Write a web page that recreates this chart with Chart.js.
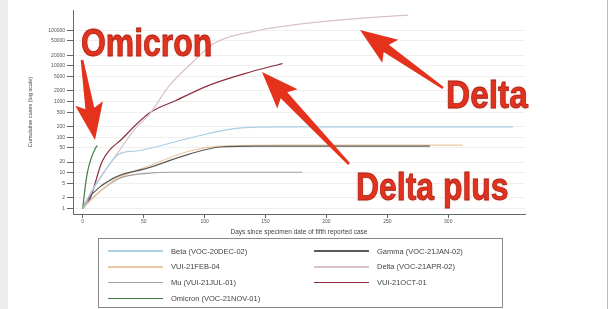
<!DOCTYPE html>
<html>
<head>
<meta charset="utf-8">
<script src="https://cdn.jsdelivr.net/npm/chart.js@4.4.0/dist/chart.umd.min.js"></script>
<style>
  html, body { margin: 0; padding: 0; background: #fff; }
  #wrap { position: relative; width: 611px; height: 309px; overflow: hidden; background: #fff; }
  #wrap:before { content: ''; position: absolute; left: 0; top: 0; width: 8px; height: 309px; background: #ececec; }
  #wrap:after { content: ''; position: absolute; right: 3px; top: 0; width: 1px; height: 309px; background: #bbb; }
  #chart { position: absolute; left: 0; top: 0; }
  .note { position: absolute; font-family: "Liberation Sans", Arial, sans-serif; font-weight: bold;
          font-size: 38px; color: #e2311d; -webkit-text-stroke: 0.8px #a3231a; line-height: 1;
          transform-origin: left top; transform: scaleX(0.84); white-space: nowrap;
          text-shadow: 0 0 3px rgba(255, 190, 170, 0.9); }
  #legend { position: absolute; left: 98px; top: 238px; width: 403px; height: 68px;
            border: 1px solid #8a8a8a; font-family: "Liberation Sans", Arial, sans-serif;
            font-size: 7.5px; color: #444; }
  .item { position: absolute; height: 10px; display: flex; align-items: center; white-space: nowrap; }
  .item span.sw { display: inline-block; width: 55px; height: 1.5px; margin-right: 8px; }
</style>
</head>
<body>
<div id="wrap">
  <canvas id="chart" width="611" height="309"></canvas>
  <div class="note" style="left:81px; top:24px;">Omicron</div>
  <div class="note" style="left:446px; top:76px; transform: scaleX(0.88);">Delta</div>
  <div class="note" style="left:356px; top:168px;">Delta plus</div>
  <div id="legend"></div>
</div>
<script>
// tick labels
var dayTicks = [0, 50, 100, 150, 200, 250, 300];
var caseTicks = [1, 2, 5, 10, 20, 50, 100, 200, 500, 1000, 2000, 5000, 10000, 20000, 50000, 100000];

// series: days since 5th case / cumulative cases
var betaDays = [0, 7, 14, 30, 44, 88, 123, 162, 353];
var betaCases = [1, 3, 7, 34, 41, 95, 171, 194, 194];

var gammaDays = [0, 3, 25, 53, 88, 113, 145, 285];
var gammaCases = [1, 1.6, 7, 13.5, 34, 53, 56, 56];

var feb04Days = [0, 4, 25, 53, 88, 113, 162, 312];
var feb04Cases = [1, 1.4, 6, 15, 41, 56, 60, 60];

var deltaDays = [0, 10, 25, 43, 55, 71, 90, 108, 145, 178, 219, 267];
var deltaCases = [1, 4.2, 24, 171, 452, 2800, 12500, 43000, 100000, 148000, 205000, 265000];

var muDays = [0, 3, 14, 30, 53, 71, 180];
var muCases = [1, 1.3, 3, 7, 9.7, 10.4, 10.4];

var oct01Days = [0, 6, 16, 33, 55, 76, 103, 133, 164];
var oct01Cases = [1, 1.9, 21, 95, 483, 1050, 2800, 6100, 11700];

var omicronDays = [0, 2, 4, 7, 10, 12];
var omicronCases = [1, 4, 11, 26, 46, 58];

function pts(days, cases) {
    return days.map(function (d, i) { return { x: d, y: cases[i] }; });
}

function series(label, color, days, cases) {
    return {
        label: label,
        borderColor: color,
        backgroundColor: color,
        borderWidth: 1.2,
        pointRadius: 0,
        fill: false,
        cubicInterpolationMode: 'monotone',
        data: pts(days, cases)
    };
}

var datasets = [
    series('Beta (VOC-20DEC-02)', '#a9cfe3', betaDays, betaCases),
    series('Gamma (VOC-21JAN-02)', '#5a5a5a', gammaDays, gammaCases),
    series('VUI-21FEB-04', '#e9c9a0', feb04Days, feb04Cases),
    series('Delta (VOC-21APR-02)', '#d8c0cc', deltaDays, deltaCases),
    series('Mu (VUI-21JUL-01)', '#a0a0a0', muDays, muCases),
    series('VUI-21OCT-01', '#8c2f3c', oct01Days, oct01Cases),
    series('Omicron (VOC-21NOV-01)', '#3f7d3f', omicronDays, omicronCases)
];

// red arrows pasted on the figure
var arrows = [
    { from: [82, 60], to: [95, 140] },
    { from: [443, 88], to: [360, 30] },
    { from: [349, 164], to: [262, 72] }
];

var arrowPlugin = {
    id: 'arrows',
    afterDraw: function (chart) {
        var ctx = chart.ctx;
        ctx.save();
        ctx.fillStyle = '#e5321d';
        arrows.forEach(function (a) {
            var dx = a.to[0] - a.from[0], dy = a.to[1] - a.from[1];
            var len = Math.sqrt(dx * dx + dy * dy);
            var ux = dx / len, uy = dy / len, nx = -uy, ny = ux;
            var headLen = 32, headW = 14, baseW = 4.5, tailW = 1.3;
            var bx = a.to[0] - ux * headLen, by = a.to[1] - uy * headLen;
            ctx.beginPath();
            ctx.moveTo(a.from[0] + nx * tailW, a.from[1] + ny * tailW);
            ctx.lineTo(bx + nx * baseW, by + ny * baseW);
            ctx.lineTo(bx + nx * headW - ux * 5, by + ny * headW - uy * 5);
            ctx.lineTo(a.to[0], a.to[1]);
            ctx.lineTo(bx - nx * headW - ux * 5, by - ny * headW - uy * 5);
            ctx.lineTo(bx - nx * baseW, by - ny * baseW);
            ctx.lineTo(a.from[0] - nx * tailW, a.from[1] - ny * tailW);
            ctx.closePath();
            ctx.fill();
        });
        ctx.restore();
    }
};

function initChart() {
    var ctx = document.getElementById('chart').getContext('2d');
    var chart = new Chart(ctx, {
        type: 'line',
        data: { datasets: datasets },
        options: {
            responsive: false,
            animation: false,
            layout: { padding: { left: 27, right: 86, top: 10, bottom: 73 } },
            plugins: { legend: { display: false }, tooltip: { enabled: false } },
            scales: {
                x: {
                    type: 'linear',
                    min: -8,
                    max: 363,
                    afterBuildTicks: function (scale) {
                        scale.ticks = dayTicks.map(function (v) { return { value: v }; });
                    },
                    afterFit: function (scale) { scale.height = 22; },
                    grid: { drawOnChartArea: false, tickLength: 4, tickColor: '#666' },
                    border: { color: '#666', width: 1 },
                    ticks: { color: '#555', font: { size: 5, family: 'Liberation Sans' }, padding: 1, maxRotation: 0 },
                    title: {
                        display: true,
                        text: 'Days since specimen date of fifth reported case',
                        color: '#444',
                        font: { size: 6.5, family: 'Liberation Sans' },
                        padding: 0
                    }
                },
                y: {
                    type: 'logarithmic',
                    min: 0.72,
                    max: 370000,
                    afterBuildTicks: function (scale) {
                        scale.ticks = caseTicks.map(function (v) { return { value: v }; });
                    },
                    afterFit: function (scale) { scale.width = 46; },
                    grid: { color: '#efefef', tickLength: 6, tickColor: '#666' },
                    border: { color: '#666', width: 1 },
                    ticks: {
                        color: '#555',
                        font: { size: 5, family: 'Liberation Sans' },
                        padding: 2,
                        callback: function (v) { return String(v); }
                    },
                    title: {
                        display: true,
                        text: 'Cumulative cases (log scale)',
                        color: '#444',
                        font: { size: 5.5, family: 'Liberation Sans' },
                        padding: 0
                    }
                }
            }
        },
        plugins: [arrowPlugin]
    });

    // two-column legend box, built from the datasets
    var box = document.getElementById('legend');
    chart.data.datasets.forEach(function (ds, i) {
        var col = i % 2, row = Math.floor(i / 2);
        var item = document.createElement('div');
        item.className = 'item';
        item.style.left = (col ? 215 : 9) + 'px';
        item.style.top = (row * 15.8 + 7) + 'px';
        var sw = document.createElement('span');
        sw.className = 'sw';
        sw.style.background = ds.borderColor;
        item.appendChild(sw);
        item.appendChild(document.createTextNode(ds.label));
        box.appendChild(item);
    });
}

document.addEventListener('DOMContentLoaded', initChart);
</script>
</body>
</html>
